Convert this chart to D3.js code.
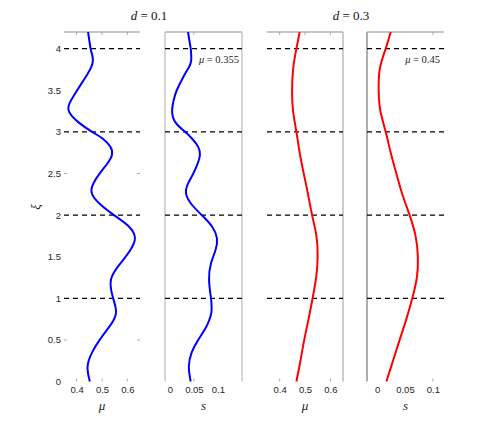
<!DOCTYPE html>
<html>
<head>
<meta charset="utf-8">
<script src="https://cdn.jsdelivr.net/npm/d3@7"></script>
<style>
  html, body { margin: 0; padding: 0; background: #fff; }
  svg { display: block; }
</style>
</head>
<body>
<svg id="chart" width="491" height="429"></svg>
<script>
// ---- data ----
const xiA = [0, 0.18, 0.35, 0.5, 0.65, 0.74, 0.82, 0.9, 1.0, 1.22, 1.42, 1.58, 1.72, 1.86, 2.0, 2.13, 2.26, 2.38, 2.5, 2.62, 2.72, 2.82, 2.92, 3.0, 3.12, 3.26, 3.38, 3.5, 3.68, 3.78, 3.86, 3.94, 4.0, 4.2];
const mu01 = [0.452, 0.443, 0.461, 0.491, 0.527, 0.546, 0.555, 0.553, 0.544, 0.535, 0.573, 0.612, 0.630, 0.607, 0.547, 0.493, 0.460, 0.466, 0.491, 0.521, 0.539, 0.533, 0.502, 0.461, 0.405, 0.368, 0.378, 0.402, 0.440, 0.458, 0.464, 0.460, 0.455, 0.445];
const s01  = [0.0434, 0.0395, 0.0455, 0.059, 0.075, 0.082, 0.0862, 0.0868, 0.0856, 0.0815, 0.0856, 0.095, 0.098, 0.088, 0.0663, 0.045, 0.0337, 0.038, 0.0488, 0.058, 0.0625, 0.059, 0.046, 0.0316, 0.011, 0.0048, 0.008, 0.0145, 0.030, 0.040, 0.0445, 0.0442, 0.0434, 0.0378];

const xiB = [0, 0.25, 0.5, 0.75, 1.0, 1.25, 1.5, 1.75, 2.0, 2.25, 2.5, 2.75, 3.0, 3.25, 3.48, 3.75, 4.0, 4.2];
const mu03 = [0.466, 0.482, 0.497, 0.514, 0.530, 0.544, 0.550, 0.545, 0.528, 0.512, 0.495, 0.479, 0.466, 0.453, 0.449, 0.453, 0.466, 0.479];
const s03  = [0.0168, 0.0286, 0.0405, 0.0525, 0.0632, 0.0714, 0.0732, 0.069, 0.0584, 0.0453, 0.0346, 0.0245, 0.0155, 0.006, 0.003, 0.0048, 0.0155, 0.0245];

const muTicks = [0.4, 0.5, 0.6];
const sTicks = [0, 0.05, 0.1];
const yTickVals = [0, 0.5, 1, 1.5, 2, 2.5, 3, 3.5, 4];
const yMarkVals = [0.5, 2.5];
const dashLevels = [1, 2, 3, 4];
const titles = ["d = 0.1", "d = 0.3"];
const annotations = ["0.355", "0.45"];

// ---- layout ----
const svg = d3.select("#chart");
const y = d3.scaleLinear().domain([0, 4.2]).range([381.5, 32]);

const panels = [
  { x0: 64,  x1: 140, domain: [0.35, 0.65],  xi: xiA, vals: mu01, color: "#0000ff", ticks: muTicks, topMarks: [0.4, 0.5, 0.6], botMarks: [0.4, 0.5, 0.6], label: "μ", borders: {left: false, right: false} },
  { x0: 165, x1: 242, domain: [-0.01, 0.15], xi: xiA, vals: s01,  color: "#0000ff", ticks: sTicks,  topMarks: [0.05], botMarks: [0.05], label: "s", borders: {left: "#c4c4c4", right: "#c4c4c4"} },
  { x0: 267, x1: 343, domain: [0.35, 0.65],  xi: xiB, vals: mu03, color: "#ff0000", ticks: muTicks, topMarks: [0.4, 0.5, 0.6], botMarks: [0.4, 0.6], label: "μ", borders: {left: false, right: "#b8b8b8"} },
  { x0: 367, x1: 444, domain: [-0.018, 0.12], xi: xiB, vals: s03, color: "#ff0000", ticks: sTicks,  topMarks: [0.1], botMarks: [0.1], label: "s", borders: {left: "#8c8c8c", right: false} }
];

const fmt = v => (v === 0 ? "0" : String(v));

panels.forEach((p, i) => {
  const x = d3.scaleLinear().domain(p.domain).range([p.x0, p.x1]);
  const g = svg.append("g");

  // borders
  g.append("line").attr("x1", p.x0).attr("x2", p.x1).attr("y1", y(4.2)).attr("y2", y(4.2))
    .attr("stroke", "#8c8c8c").attr("stroke-width", 1);
  if (p.borders.left) g.append("line").attr("x1", p.x0).attr("x2", p.x0).attr("y1", y(4.2)).attr("y2", y(0))
    .attr("stroke", p.borders.left).attr("stroke-width", 1.4);
  if (p.borders.right) g.append("line").attr("x1", p.x1).attr("x2", p.x1).attr("y1", y(4.2)).attr("y2", y(0))
    .attr("stroke", p.borders.right).attr("stroke-width", 1.4);

  // tick marks
  g.selectAll(".tm").data(p.topMarks).join("line")
    .attr("x1", d => x(d)).attr("x2", d => x(d)).attr("y1", y(4.2)).attr("y2", y(4.2) + 3)
    .attr("stroke", "#9a9a9a").attr("stroke-width", 0.8);
  g.selectAll(".bm").data(p.botMarks).join("line")
    .attr("x1", d => x(d)).attr("x2", d => x(d)).attr("y1", y(0)).attr("y2", y(0) - 3)
    .attr("stroke", "#9a9a9a").attr("stroke-width", 0.8);

  // x tick labels via axis
  const ax = d3.axisBottom(x).tickValues(p.ticks).tickSize(0).tickPadding(0).tickFormat(fmt);
  const axg = g.append("g").attr("transform", `translate(0,${y(0) + 5})`).call(ax);
  axg.select(".domain").remove();
  axg.selectAll("text").attr("font-family", "'Liberation Sans', Arial, sans-serif")
    .attr("font-size", 9.5).attr("fill", "#262626").attr("dy", "0.71em");

  // axis label
  g.append("text").attr("x", (p.x0 + p.x1) / 2).attr("y", 410).attr("text-anchor", "middle")
    .attr("font-family", "'Liberation Serif', 'DejaVu Serif', serif").attr("font-style", "italic")
    .attr("font-size", 13).attr("fill", "#222").text(p.label);

  // dashed reference lines
  g.selectAll(".dl").data(dashLevels).join("line")
    .attr("x1", p.x0).attr("x2", p.x1).attr("y1", d => y(d)).attr("y2", d => y(d))
    .attr("stroke", "#000").attr("stroke-width", 1.2).attr("stroke-dasharray", "5,4");

  // curve
  const pts = p.xi.map((v, k) => [p.vals[k], v]);
  const gen = d3.line().x(d => x(d[0])).y(d => y(d[1])).curve(d3.curveNatural);
  g.append("path").attr("d", gen(pts)).attr("fill", "none")
    .attr("stroke", p.color).attr("stroke-width", 2);
});

// y axis (left of first panel)
const yAx = d3.axisLeft(y).tickValues(yTickVals).tickSize(0).tickPadding(3)
  .tickFormat(d => String(d));
const yg = svg.append("g").attr("transform", "translate(61,0)").call(yAx);
yg.select(".domain").remove();
yg.selectAll("text").attr("font-family", "'Liberation Sans', Arial, sans-serif")
  .attr("font-size", 9.5).attr("fill", "#262626").attr("x", 0);

// y tick marks (inner, both sides of panel 1)
svg.selectAll(".ymL").data(yMarkVals).join("line")
  .attr("x1", 64).attr("x2", 67).attr("y1", d => y(d)).attr("y2", d => y(d))
  .attr("stroke", "#9a9a9a").attr("stroke-width", 0.8);
svg.selectAll(".ymR").data(yMarkVals).join("line")
  .attr("x1", 137).attr("x2", 140).attr("y1", d => y(d)).attr("y2", d => y(d))
  .attr("stroke", "#9a9a9a").attr("stroke-width", 0.8);

// y label
svg.append("text").attr("transform", "translate(40,207) rotate(-90)").attr("text-anchor", "middle")
  .attr("font-family", "'Liberation Serif', 'DejaVu Serif', serif").attr("font-style", "italic")
  .attr("font-size", 13).attr("fill", "#222").text("ξ");

// titles
[[149, titles[0]], [351, titles[1]]].forEach(([cx, t]) => {
  const parts = t.split(" = ");
  const tx = svg.append("text").attr("x", cx).attr("y", 20).attr("text-anchor", "middle")
    .attr("font-family", "'Liberation Serif', 'DejaVu Serif', serif").attr("font-size", 13).attr("fill", "#111");
  tx.append("tspan").attr("font-style", "italic").text(parts[0]);
  tx.append("tspan").text(" = " + parts[1]);
});

// annotations
[[239, annotations[0]], [440, annotations[1]]].forEach(([rx, v]) => {
  const tx = svg.append("text").attr("x", rx).attr("y", 63).attr("text-anchor", "end")
    .attr("font-family", "'Liberation Serif', 'DejaVu Serif', serif").attr("font-size", 10.5).attr("fill", "#222");
  tx.append("tspan").attr("font-style", "italic").text("μ");
  tx.append("tspan").text(" = " + v);
});
</script>
</body>
</html>
